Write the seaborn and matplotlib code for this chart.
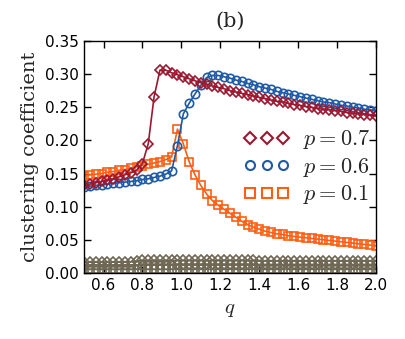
import numpy as np
import pandas as pd
import matplotlib
matplotlib.use("Agg")
import matplotlib.pyplot as plt
import seaborn as sns
from matplotlib.lines import Line2D

q = [0.50, 0.53, 0.56, 0.59, 0.62, 0.65, 0.68, 0.71, 0.74, 0.77,
     0.80, 0.83, 0.86, 0.89, 0.92, 0.95, 0.98, 1.01, 1.04, 1.07,
     1.10, 1.13, 1.16, 1.19, 1.22, 1.25, 1.28, 1.31, 1.34, 1.37,
     1.40, 1.43, 1.46, 1.49, 1.52, 1.55, 1.58, 1.61, 1.64, 1.67,
     1.70, 1.73, 1.76, 1.79, 1.82, 1.85, 1.88, 1.91, 1.94, 1.97, 2.00]

c_p07 = [0.132, 0.134, 0.136, 0.138, 0.140, 0.142, 0.145, 0.148, 0.151, 0.155,
         0.165, 0.195, 0.266, 0.306, 0.306, 0.302, 0.299, 0.296, 0.293, 0.290,
         0.287, 0.285, 0.282, 0.280, 0.278, 0.275, 0.273, 0.271, 0.269, 0.267,
         0.265, 0.263, 0.261, 0.259, 0.258, 0.256, 0.254, 0.253, 0.251, 0.250,
         0.248, 0.247, 0.246, 0.245, 0.244, 0.242, 0.241, 0.240, 0.239, 0.238, 0.237]

c_p06 = [0.130, 0.131, 0.132, 0.133, 0.134, 0.135, 0.136, 0.137, 0.138, 0.139,
         0.141, 0.142, 0.144, 0.146, 0.149, 0.154, 0.192, 0.240, 0.256, 0.270,
         0.283, 0.295, 0.298, 0.298, 0.296, 0.294, 0.291, 0.289, 0.286, 0.284,
         0.281, 0.279, 0.277, 0.274, 0.272, 0.270, 0.268, 0.266, 0.264, 0.262,
         0.260, 0.258, 0.257, 0.255, 0.253, 0.252, 0.250, 0.249, 0.247, 0.246, 0.245]

c_p01 = [0.146, 0.148, 0.149, 0.150, 0.152, 0.153, 0.155, 0.156, 0.158, 0.160,
         0.162, 0.164, 0.166, 0.168, 0.171, 0.175, 0.217, 0.195, 0.168, 0.148,
         0.132, 0.119, 0.109, 0.102, 0.096, 0.090, 0.084, 0.078, 0.073, 0.069,
         0.066, 0.063, 0.061, 0.059, 0.058, 0.056, 0.055, 0.054, 0.053, 0.052,
         0.051, 0.050, 0.049, 0.048, 0.047, 0.046, 0.045, 0.044, 0.043, 0.042, 0.041]

g_p07 = [0.016, 0.016, 0.016, 0.016, 0.016, 0.016, 0.016, 0.016, 0.017, 0.018,
         0.019, 0.019, 0.019, 0.019, 0.019, 0.019, 0.019, 0.019, 0.019, 0.019,
         0.019, 0.019, 0.019, 0.019, 0.019, 0.019, 0.019, 0.019, 0.019, 0.019,
         0.018, 0.018, 0.018, 0.018, 0.018, 0.018, 0.018, 0.018, 0.018, 0.018,
         0.018, 0.018, 0.018, 0.018, 0.018, 0.018, 0.018, 0.018, 0.018, 0.018, 0.018]

g_p06 = [0.012, 0.012, 0.012, 0.012, 0.012, 0.012, 0.012, 0.012, 0.012, 0.012,
         0.012, 0.012, 0.012, 0.012, 0.012, 0.012, 0.013, 0.013, 0.013, 0.013,
         0.013, 0.013, 0.013, 0.013, 0.013, 0.013, 0.013, 0.013, 0.013, 0.013,
         0.013, 0.013, 0.013, 0.013, 0.013, 0.013, 0.013, 0.013, 0.013, 0.013,
         0.013, 0.013, 0.013, 0.013, 0.013, 0.013, 0.013, 0.013, 0.013, 0.013, 0.013]

g_p01 = [0.006, 0.006, 0.006, 0.006, 0.006, 0.006, 0.006, 0.006, 0.006, 0.006,
         0.006, 0.006, 0.006, 0.006, 0.006, 0.006, 0.006, 0.006, 0.006, 0.006,
         0.006, 0.006, 0.006, 0.006, 0.006, 0.006, 0.006, 0.006, 0.006, 0.006,
         0.006, 0.006, 0.006, 0.006, 0.006, 0.006, 0.006, 0.006, 0.006, 0.006,
         0.006, 0.006, 0.006, 0.006, 0.006, 0.006, 0.006, 0.006, 0.006, 0.006, 0.006]

labels = ["$p=0.7$", "$p=0.6$", "$p=0.1$"]
colors = ["#9b1830", "#1f5aa6", "#ff5f14"]
gray = "#6e6753"
markers = ["D", "o", "s"]
msizes = [5.5, 6.0, 6.0]

sns.set_theme(style="ticks")
plt.rcParams["mathtext.fontset"] = "cm"
plt.rcParams["font.family"] = ["DejaVu Sans"]

fig = plt.figure(figsize=(4.06, 3.39), dpi=100)
ax = fig.add_axes([0.207, 0.195, 0.719, 0.684])

series = [c_p07, c_p06, c_p01]
gseries = [g_p07, g_p06, g_p01]

for gs, m, ms in zip(gseries, markers, msizes):
    sns.lineplot(x=q, y=gs, ax=ax, color=gray, lw=1.0, marker=m, markersize=ms - 0.5,
                 markerfacecolor="none", markeredgecolor=gray, markeredgewidth=1.2,
                 estimator=None, sort=False)

for s, c, m, ms in zip(series[::-1], colors[::-1], markers[::-1], msizes[::-1]):
    sns.lineplot(x=q, y=s, ax=ax, color=c, lw=1.2, marker=m, markersize=ms,
                 markerfacecolor="none", markeredgecolor=c, markeredgewidth=1.2,
                 estimator=None, sort=False)

handles = [Line2D([], [], linestyle="none", marker=m, markersize=ms + 0.5,
                  markerfacecolor="none", markeredgecolor=c, markeredgewidth=1.5)
           for m, c, ms in zip(markers, colors, msizes)]
ax.legend(handles, labels, numpoints=3, frameon=False, fontsize=16,
          loc="center right", bbox_to_anchor=(1.05, 0.455), handlelength=2.1,
          handletextpad=0.6, labelspacing=0.2)

ax.set_xlim(0.5, 2.0)
ax.set_ylim(0.0, 0.35)
ax.set_xticks([0.6, 0.8, 1.0, 1.2, 1.4, 1.6, 1.8, 2.0])
ax.set_yticks([0.0, 0.05, 0.10, 0.15, 0.20, 0.25, 0.30, 0.35])
ax.set_yticklabels(["0.00", "0.05", "0.10", "0.15", "0.20", "0.25", "0.30", "0.35"])
ax.tick_params(direction="in", top=True, right=True, length=5, width=1,
               labelsize=11, color="black", labelcolor="black", pad=4)
for sp in ax.spines.values():
    sp.set_color("black")
    sp.set_linewidth(1.0)

ax.set_xlabel("$q$", fontsize=15)
ax.set_ylabel("clustering coefficient", fontsize=14, family="DejaVu Serif")
ax.set_title("(b)", fontsize=15, family="DejaVu Serif", pad=10)

fig.savefig("out.png", dpi=100, facecolor="white")
